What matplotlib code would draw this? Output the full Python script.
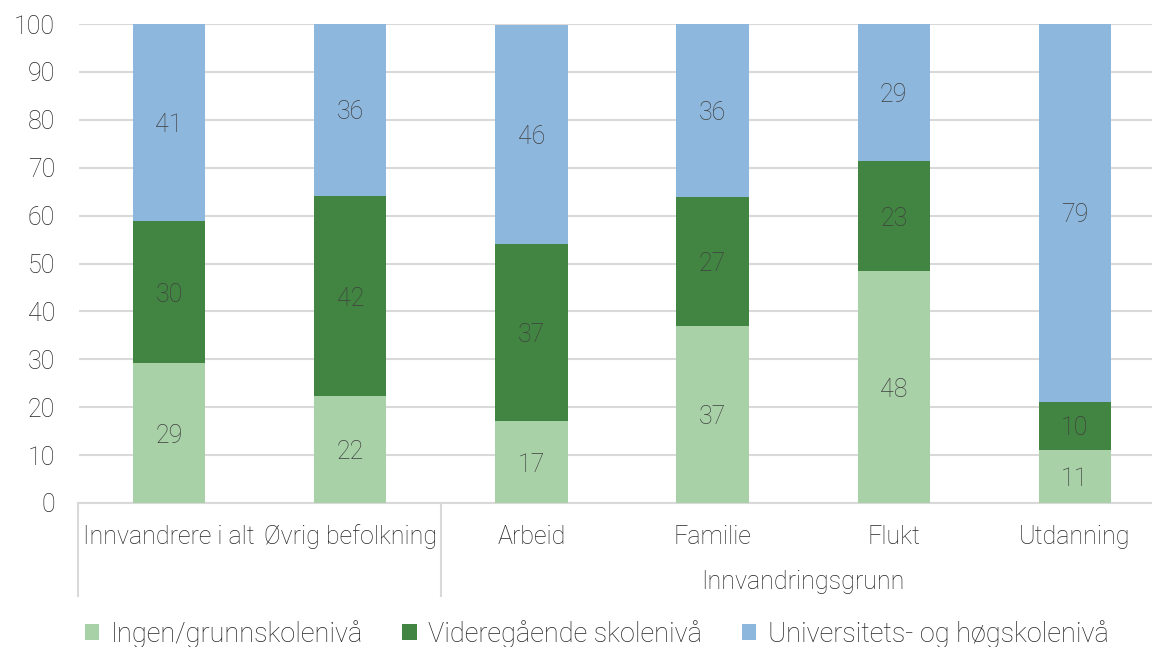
import matplotlib
matplotlib.use("Agg")
import matplotlib.pyplot as plt
import matplotlib.transforms as mtransforms
from matplotlib.patches import Patch
from matplotlib.lines import Line2D

categories = ["Innvandrere i alt", "Øvrig befolkning", "Arbeid", "Familie", "Flukt", "Utdanning"]
group_label = "Innvandringsgrunn"
series_names = ["Ingen/grunnskolenivå", "Videregående skolenivå", "Universitets- og høgskolenivå"]
ingen = [29.2, 22.3, 17.1, 37.0, 48.4, 11.1]
vgs = [29.7, 41.8, 37.0, 26.9, 23.0, 10.0]
uni = [41.1, 35.9, 45.6, 36.1, 28.6, 78.9]
colors = ["#a8d1a8", "#428441", "#8db7dc"]
yticks = [0, 10, 20, 30, 40, 50, 60, 70, 80, 90, 100]

plt.rcParams['font.family'] = ['Roboto', 'DejaVu Sans']
FW = 'light'
FS = 18
W, H = 1152, 647
fig = plt.figure(figsize=(W/100, H/100), dpi=100)
ax = fig.add_axes([78.5/W, 1 - 503/H, 1087/W, 479/H])

x = list(range(len(categories)))
bottom = [0]*len(x)
for vals, col in zip([ingen, vgs, uni], colors):
    ax.bar(x, vals, width=0.4, bottom=bottom, color=col, zorder=3)
    for xi, v, b in zip(x, vals, bottom):
        ax.text(xi, b + v/2, f"{v:.0f}", ha='center', va='center_baseline', fontsize=FS,
                color='#404040', fontweight=FW, zorder=4)
    bottom = [b + v for b, v in zip(bottom, vals)]

ax.set_xlim(-0.5, len(x) - 0.5)
ax.set_ylim(0, 100)
ax.set_yticks(yticks)
ax.set_yticklabels([str(t) for t in yticks], fontsize=FS, color='#262626', fontweight=FW)
ax.tick_params(axis='y', length=0, pad=17)
ax.set_xticks([])
ax.grid(axis='y', color='#d9d9d9', linewidth=1.5, zorder=0)
for s in ['top', 'right', 'left']:
    ax.spines[s].set_visible(False)
ax.spines['bottom'].set_color('#d9d9d9')
ax.spines['bottom'].set_linewidth(1.5)

trans = mtransforms.blended_transform_factory(ax.transData, fig.transFigure)
for xi, c in zip(x, categories):
    ax.text(xi, 1 - 537/H, c, transform=trans, ha='center', va='center', fontsize=FS,
            color='#262626', fontweight=FW)
ax.text(3.5, 1 - 582/H, group_label, transform=trans, ha='center', va='center', fontsize=FS,
        color='#262626', fontweight=FW)
for xb in [-0.5, 1.5, 5.5]:
    ax.add_line(Line2D([xb, xb], [1 - 503/H, 1 - 596/H], transform=trans, color='#d9d9d9',
                       linewidth=1.5, clip_on=False))

handles = [Patch(facecolor=c, edgecolor='none') for c in colors]
fig.legend(handles, series_names, loc='center', bbox_to_anchor=(0.518, 1 - 634/H), ncol=3,
           frameon=False, handlelength=0.52, handleheight=0.52,
           handletextpad=0.44, columnspacing=1.45, borderpad=0, borderaxespad=0,
           prop={'weight': FW, 'size': 19.5})
for t in fig.legends[0].get_texts():
    t.set_color('#262626')

fig.savefig("out.png", dpi=100)
